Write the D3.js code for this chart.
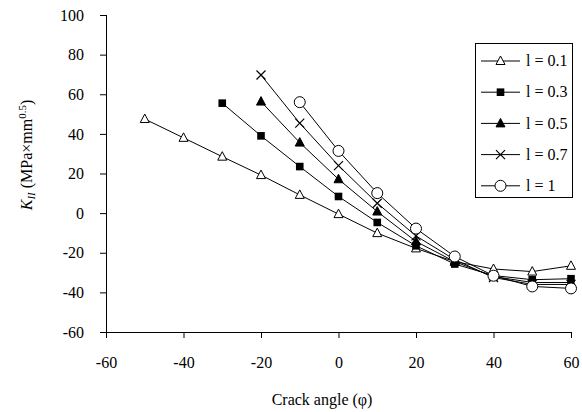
<!DOCTYPE html>
<html>
<head>
<meta charset="utf-8">
<script src="https://cdn.jsdelivr.net/npm/d3@7"></script>
<style>
  body { margin: 0; background: #fff; }
  svg { display: block; font-family: "Liberation Serif", "Times New Roman", serif; }
</style>
</head>
<body>
<script>
// Data: K_II vs crack angle for several l values
const labels = ["l = 0.1", "l = 0.3", "l = 0.5", "l = 0.7", "l = 1"];
const markers = ["triangleOpen", "square", "triangle", "cross", "circle"];

const angles01 = [-50, -40, -30, -20, -10, 0, 10, 20, 30, 40, 50, 60];
const k01 = [47.5, 38, 28.5, 19.2, 9.2, -0.5, -10.1, -17.8, -24.5, -28.2, -29.5, -26.6];

const angles03 = [-30, -20, -10, 0, 10, 20, 30, 40, 50, 60];
const k03 = [55.5, 39, 23.5, 8.4, -4.7, -16.5, -25.7, -31.5, -33.6, -33.1];

const angles05 = [-20, -10, 0, 10, 20, 30, 40, 50, 60];
const k05 = [56.3, 35.6, 17.1, 0.8, -14.3, -24.5, -32, -35, -35];

const angles07 = [-20, -10, 0, 10, 20, 30, 40, 50, 60];
const k07 = [69.7, 45.4, 24, 5, -11.5, -23.5, -32.5, -36, -36];

const angles1 = [-10, 0, 10, 20, 30, 40, 50, 60];
const k1 = [56, 31.4, 10.1, -7.8, -21.9, -31.6, -37, -38];

const xTicks = [-60, -40, -20, 0, 20, 40, 60];
const yTicks = [-60, -40, -20, 0, 20, 40, 60, 80, 100];

const series = [
  [angles01, k01], [angles03, k03], [angles05, k05], [angles07, k07], [angles1, k1]
].map(([a, k], i) => ({
  label: labels[i],
  marker: markers[i],
  points: a.map((x, j) => ({x, y: k[j]}))
}));

const width = 582;
const height = 412;
const plotLeft = 106;
const plotRight = 571;
const plotTop = 15;
const plotBottom = 332;
const serif = "Liberation Serif, Times New Roman, serif";

const x = d3.scaleLinear([-60, 60], [plotLeft, plotRight]);
const y = d3.scaleLinear([-60, 100], [plotBottom, plotTop]);

const svg = d3.select("body").append("svg")
    .attr("width", width)
    .attr("height", height)
    .attr("viewBox", [0, 0, width, height]);

// Axes (plain hyphen for negatives, like the original)
svg.append("g")
    .attr("transform", `translate(0,${plotBottom})`)
    .call(d3.axisBottom(x).tickValues(xTicks).tickFormat(d => String(d))
      .tickSizeOuter(0).tickSize(6).tickPadding(19))
    .attr("font-family", serif)
    .attr("font-size", 16)
    .call(g => g.select(".domain").attr("d", `M${plotLeft - 6},0.5H${plotRight}`));

svg.append("g")
    .attr("transform", `translate(${plotLeft},0)`)
    .call(d3.axisLeft(y).tickValues(yTicks).tickFormat(d => String(d))
      .tickSizeOuter(0).tickSize(6).tickPadding(16))
    .attr("font-family", serif)
    .attr("font-size", 16)
    .call(g => g.select(".domain").attr("d", `M0.5,${plotTop}V${plotBottom + 6}`));

svg.selectAll(".domain, .tick line").attr("stroke", "#000");
svg.selectAll(".tick text").attr("fill", "#000");

// Axis titles
svg.append("text")
    .attr("x", 322)
    .attr("y", 405)
    .attr("text-anchor", "middle")
    .attr("font-size", 16)
    .text("Crack angle (φ)");

const yLabel = svg.append("text")
    .attr("transform", "translate(32,155) rotate(-90)")
    .attr("text-anchor", "middle")
    .attr("font-size", 16);
yLabel.append("tspan").attr("font-style", "italic").text("K");
yLabel.append("tspan").attr("font-style", "italic").attr("font-size", 11).attr("dy", 3).text("II");
yLabel.append("tspan").attr("dy", -3).text(" (MPa×mm");
yLabel.append("tspan").attr("font-size", 11).attr("dy", -6).text("0.5");
yLabel.append("tspan").attr("dy", 6).text(")");

// Marker drawing
function drawMarker(g, type) {
  if (type === "triangleOpen" || type === "triangle") {
    g.append("path")
        .attr("d", "M0,-5L4.5,3.5L-4.5,3.5Z")
        .attr("fill", type === "triangle" ? "#000" : "#fff")
        .attr("stroke", "#000")
        .attr("stroke-width", 1);
  } else if (type === "square") {
    g.append("rect")
        .attr("x", -3.8).attr("y", -3.8)
        .attr("width", 7.6).attr("height", 7.6)
        .attr("fill", "#000");
  } else if (type === "cross") {
    g.append("path")
        .attr("d", "M-4.5,-4.5L4.5,4.5M-4.5,4.5L4.5,-4.5")
        .attr("stroke", "#000")
        .attr("stroke-width", 1.2);
  } else {
    g.append("circle")
        .attr("r", 5.5)
        .attr("fill", "#fff")
        .attr("stroke", "#000")
        .attr("stroke-width", 1);
  }
}

const line = d3.line().x(d => x(d.x)).y(d => y(d.y));

series.forEach(s => {
  const g = svg.append("g");
  g.append("path")
      .attr("d", line(s.points))
      .attr("fill", "none")
      .attr("stroke", "#000")
      .attr("stroke-width", 1);
  g.selectAll("g")
    .data(s.points)
    .join("g")
      .attr("transform", d => `translate(${x(d.x)},${y(d.y)})`)
      .each(function() { drawMarker(d3.select(this), s.marker); });
});

// Legend
const legend = svg.append("g");
legend.append("rect")
    .attr("x", 475.5).attr("y", 43.5)
    .attr("width", 97).attr("height", 154)
    .attr("fill", "#fff")
    .attr("stroke", "#000");

series.forEach((s, i) => {
  const ly = 61 + i * 31.2;
  legend.append("line")
      .attr("x1", 481).attr("x2", 520)
      .attr("y1", ly).attr("y2", ly)
      .attr("stroke", "#000");
  const m = legend.append("g").attr("transform", `translate(500.5,${ly})`);
  drawMarker(m, s.marker);
  legend.append("text")
      .attr("x", 526)
      .attr("y", ly)
      .attr("dy", "0.33em")
      .attr("font-size", 16)
      .text(s.label);
});
</script>
</body>
</html>
